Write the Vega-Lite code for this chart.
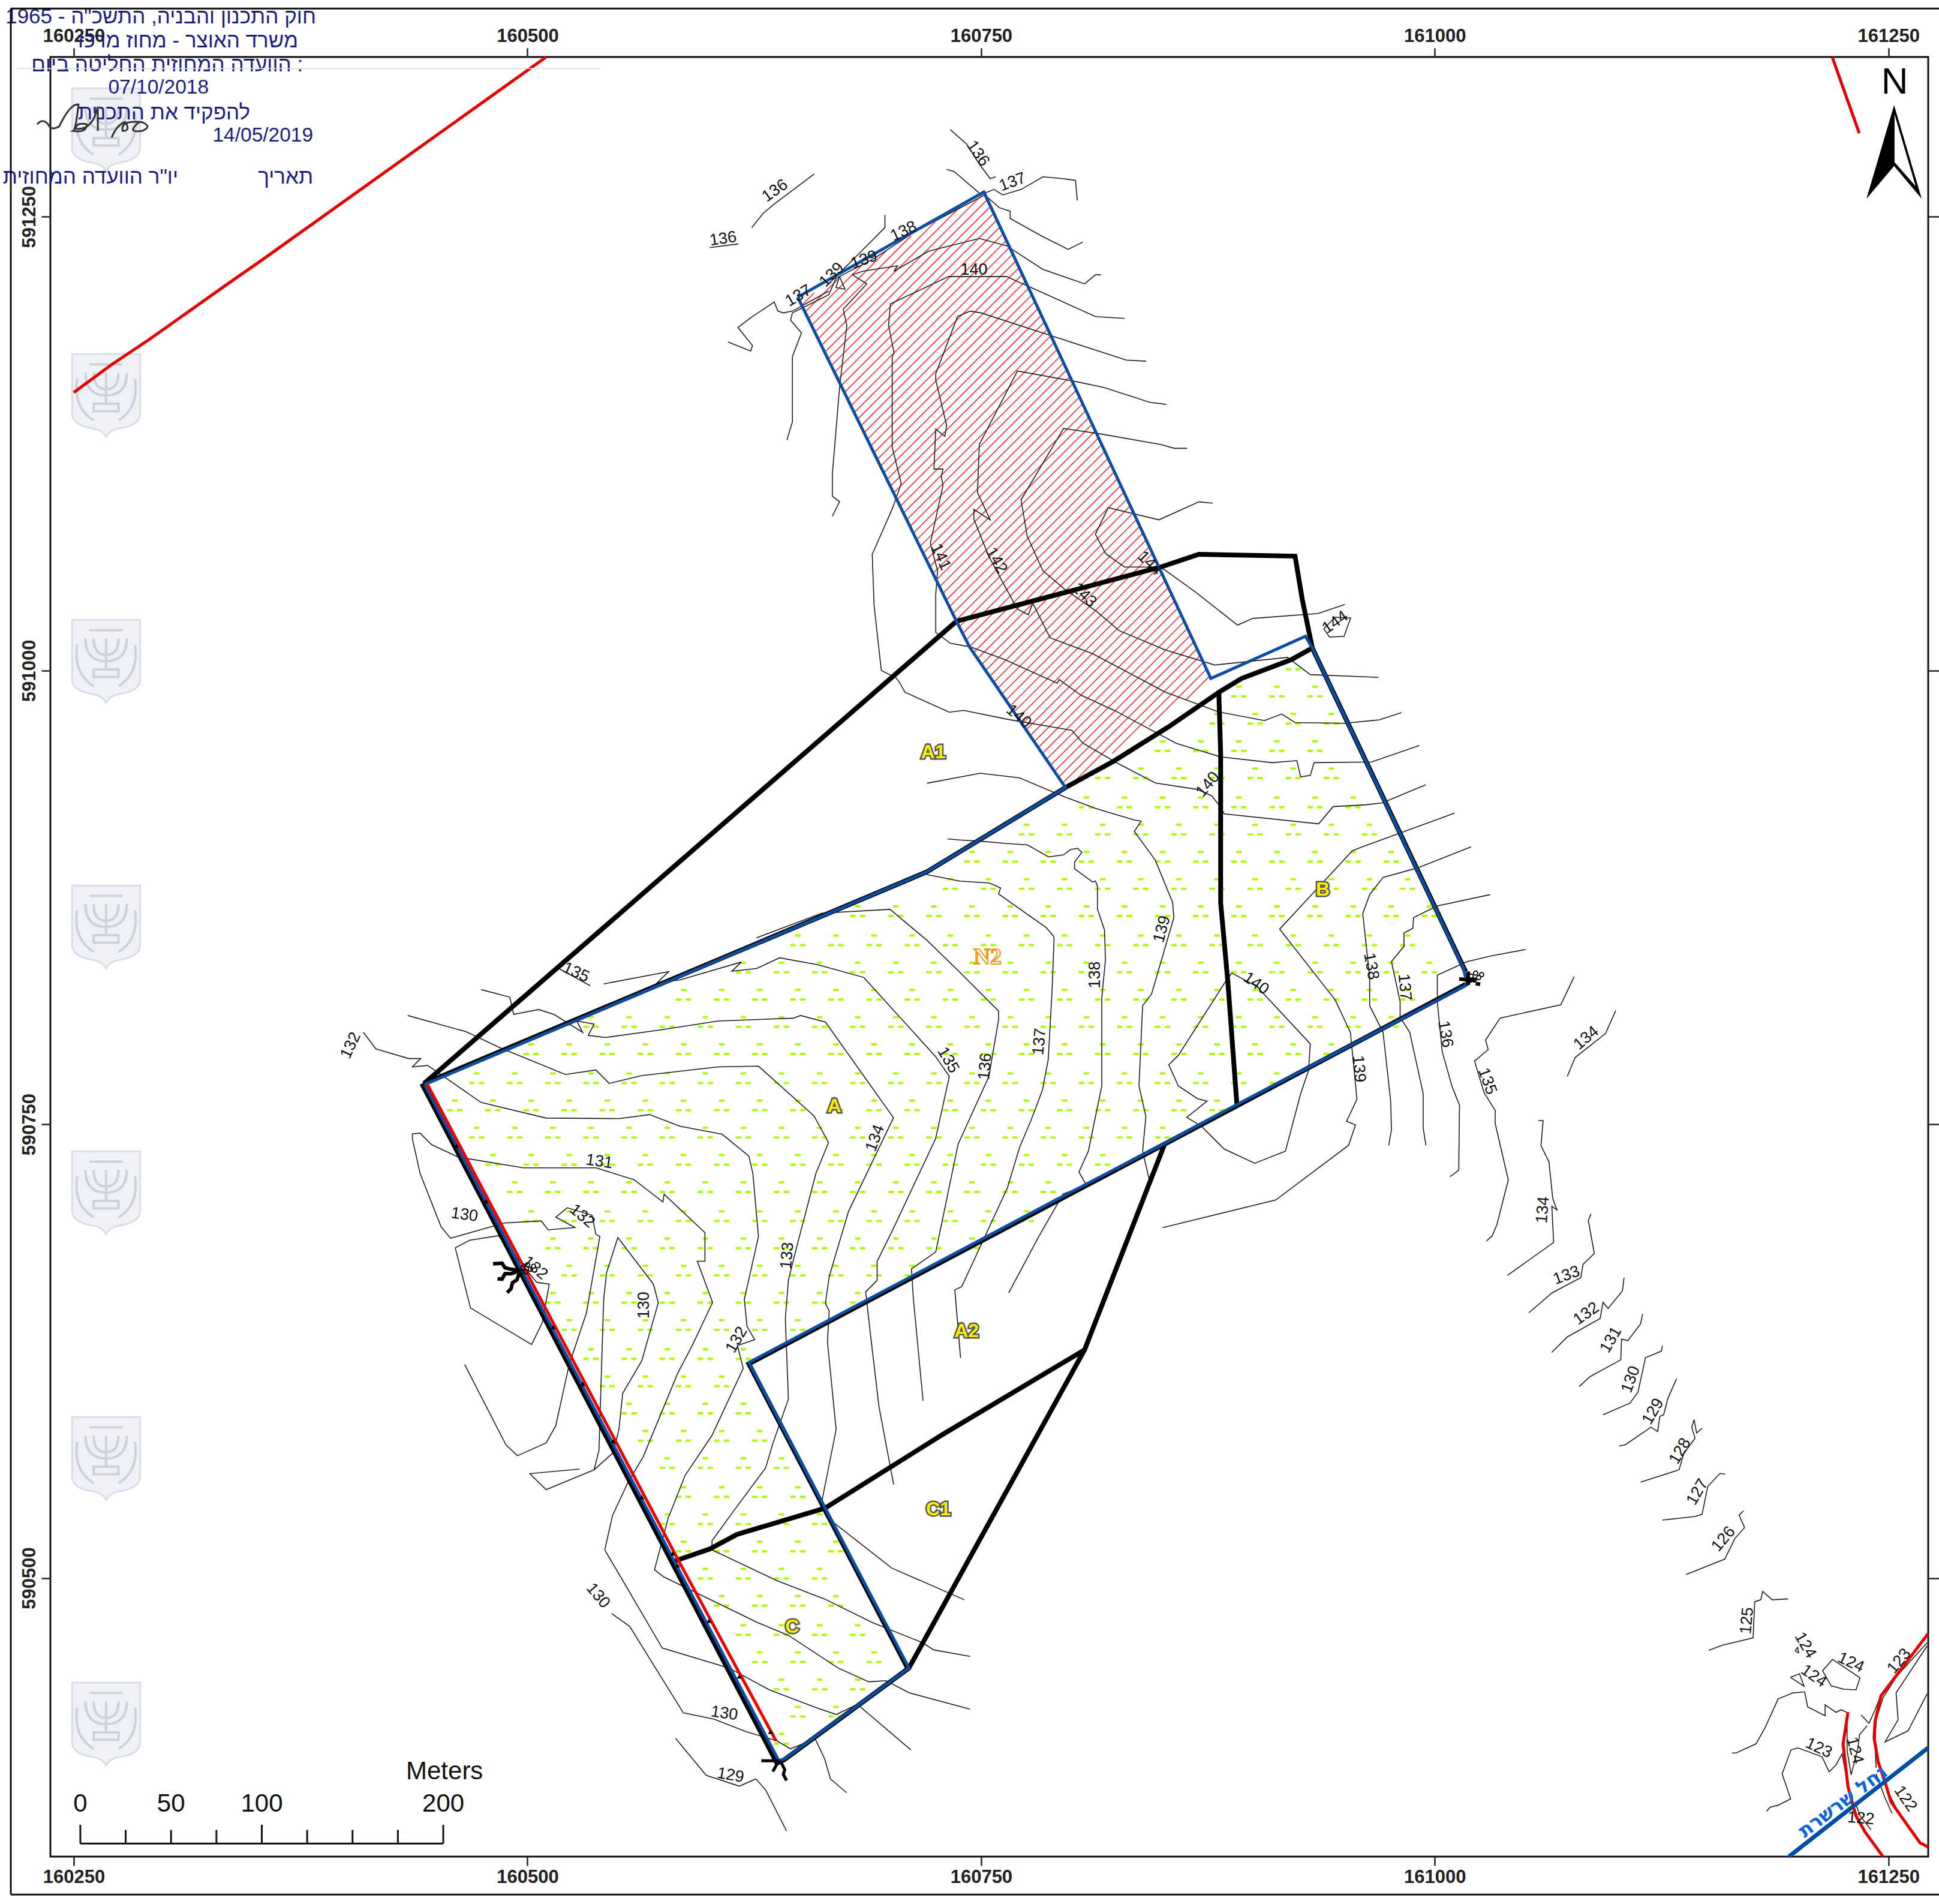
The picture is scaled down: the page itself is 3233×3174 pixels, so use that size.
{"$schema":"https://vega.github.io/schema/vega-lite/v6.json","width":3131,"height":3000,"autosize":"none","padding":{"left":84,"top":95,"right":18,"bottom":79},"background":"white","config":{"view":{"stroke":"#111","strokeWidth":3},"axis":{"grid":false,"domain":false,"title":null,"labelFont":"Liberation Sans","labelFontWeight":"bold","labelFontSize":31,"labelColor":"#222","tickColor":"#222","tickWidth":2.5,"tickSize":15,"labelPadding":4,"labelOverlap":false,"labelFlush":false,"format":"d"}},
"resolve":{"axis":{"x":"independent","y":"independent"}},
"encoding":{"x":{"field":"x","type":"quantitative","scale":{"domain":[160237.1,161271.9],"nice":false,"zero":false},"axis":null},"y":{"field":"y","type":"quantitative","scale":{"domain":[590346.5,591338],"nice":false,"zero":false},"axis":null}},
"layer":[
{"data":{"name":"emblems"},"mark":{"type":"point","filled":true,"fill":"#eff1f6","stroke":"#d9dde6","strokeWidth":3,"opacity":1,"size":19044,"shape":"M-0.82 -1H0.82V0.45Q0.82 0.72 0.3 0.8Q0.08 0.84 0 1Q-0.08 0.84 -0.3 0.8Q-0.82 0.72 -0.82 0.45Z"},
"encoding":{"x":{"field":"x","type":"quantitative","scale":{"domain":[160237.1,161271.9],"nice":false,"zero":false},"axis":{"orient":"bottom","values":[160250,160500,160750,161000,161250]}},"y":{"field":"y","type":"quantitative","scale":{"domain":[590346.5,591338],"nice":false,"zero":false},"axis":{"orient":"left","values":[590500,590750,591000,591250],"labelAngle":-90,"labelAlign":"center","labelBaseline":"bottom"}}}},
{"data":{"name":"emblems"},"mark":{"type":"point","filled":false,"stroke":"#ccd1dc","strokeWidth":4,"opacity":1,"size":19044,"shape":"M0 -0.55V0.2M-0.5 -0.55Q-0.5 0 0 0Q0.5 0 0.5 -0.55M-0.3 -0.55Q-0.3 -0.15 0 -0.15Q0.3 -0.15 0.3 -0.55M-0.3 0.2H0.3V0.38H-0.3ZM-0.7 -0.4Q-0.8 0.3 -0.3 0.6M0.7 -0.4Q0.8 0.3 0.3 0.6M-0.4 -0.75H0.4"},
"encoding":{"x":{"field":"x","type":"quantitative","scale":{"domain":[160237.1,161271.9],"nice":false,"zero":false},"axis":{"orient":"top","values":[160250,160500,160750,161000,161250]}},"y":{"field":"y","type":"quantitative","scale":{"domain":[590346.5,591338],"nice":false,"zero":false},"axis":{"orient":"right","values":[590500,590750,591000,591250],"labels":false,"tickSize":18}}}},
{"data":{"name":"green"},"mark":{"type":"point","filled":true,"fill":"#aaff00","stroke":null,"opacity":1,"size":676,"shape":"M-0.35 -0.15H0.35V0.15H-0.35ZM-0.97 1.08H-0.28V1.38H-0.97ZM0.28 1.08H0.97V1.38H0.28Z"}},
{"data":{"name":"hatch"},"mark":{"type":"rule","color":"#f02a2a","strokeWidth":1.6},"encoding":{"x2":{"field":"x2"},"y2":{"field":"y2"}}},
{"data":{"name":"contours"},"transform":[{"window":[{"op":"row_number","as":"i"}]}],"mark":{"type":"line","color":"#1c1c1c","strokeWidth":1.6,"strokeJoin":"miter"},"encoding":{"detail":{"field":"c","type":"nominal"},"order":{"field":"i","type":"quantitative"}}},
{"data":{"name":"redlines"},"transform":[{"window":[{"op":"row_number","as":"i"}]}],"mark":{"type":"line","color":"#e60000","strokeWidth":5},"encoding":{"detail":{"field":"c","type":"nominal"},"order":{"field":"i","type":"quantitative"}}},
{"data":{"name":"blacklines"},"transform":[{"window":[{"op":"row_number","as":"i"}]}],"mark":{"type":"line","color":"#000","strokeWidth":8},"encoding":{"detail":{"field":"c","type":"nominal"},"order":{"field":"i","type":"quantitative"}}},
{"data":{"name":"bluelines"},"transform":[{"window":[{"op":"row_number","as":"i"}]}],"mark":{"type":"line","color":"#0a4da3","strokeWidth":5},"encoding":{"detail":{"field":"c","type":"nominal"},"order":{"field":"i","type":"quantitative"}}},
{"data":{"name":"parcel"},"mark":{"type":"line","color":"#f00000","strokeWidth":5}},
{"data":{"name":"river"},"mark":{"type":"line","color":"#004da8","strokeWidth":7}},
{"data":{"name":"arrows"},"mark":{"type":"point","shape":"triangle-up","filled":true,"color":"#000","opacity":1,"size":70}},
{"data":{"values":[{"x":160495.9,"y":590669.3}]},"mark":{"type":"point","filled":false,"stroke":"#000","strokeWidth":6,"opacity":1,"size":10000,"shape":"M0 0L-0.3 -0.05L-0.5 -0.1L-0.6 -0.25L-0.9 -0.23M0 0L-0.3 0.1L-0.5 0.1L-0.6 0.28L-0.75 0.27M0 0L-0.1 0.3L-0.25 0.4L-0.3 0.6L-0.43 0.73"}},
{"data":{"values":[{"x":161018.4,"y":590830}]},"mark":{"type":"point","filled":false,"stroke":"#000","strokeWidth":6,"opacity":1,"size":2500,"shape":"M-0.6 0L0.5 0.1M0 -0.5L0 0.4M0.5 0.3L0.8 0.35"}},
{"data":{"values":[{"x":160638.5,"y":590399.3}]},"mark":{"type":"point","filled":false,"stroke":"#000","strokeWidth":5,"opacity":1,"size":10000,"shape":"M0 0L-0.58 0M0 0L-0.2 0.36M0 0L0.1 0.1L0.2 0.3L0.15 0.45L0.26 0.66"}},
{"data":{"values":[{"x":160495.9,"y":590669.3},{"x":161018.4,"y":590830}]},"mark":{"type":"point","filled":false,"stroke":"#000","strokeWidth":1.8,"opacity":1,"size":10000,"shape":"M0.17 -0.1a0.07 0.07 0 1 0 -0.14 0a0.07 0.07 0 1 0 0.14 0ZM0.32 -0.2a0.07 0.07 0 1 0 -0.14 0a0.07 0.07 0 1 0 0.14 0ZM0.42 -0.05a0.07 0.07 0 1 0 -0.14 0a0.07 0.07 0 1 0 0.14 0ZM0.27 0.03a0.07 0.07 0 1 0 -0.14 0a0.07 0.07 0 1 0 0.14 0ZM0.52 -0.15a0.07 0.07 0 1 0 -0.14 0a0.07 0.07 0 1 0 0.14 0ZM0.12 0.05a0.07 0.07 0 1 0 -0.14 0a0.07 0.07 0 1 0 0.14 0Z"}},
{"data":{"name":"contourLabels"},"mark":{"type":"text","font":"Liberation Sans","fontSize":27,"color":"#111","align":"center","baseline":"middle"},"encoding":{"text":{"field":"t"},"angle":{"field":"a","type":"quantitative","scale":null}}},
{"data":{"name":"zones"},"mark":{"type":"text","font":"Liberation Sans","fontWeight":"bold","fontSize":32,"fill":"#ffee00","stroke":"#555","strokeWidth":5,"align":"center","baseline":"middle"},"encoding":{"text":{"field":"t"}}},
{"data":{"name":"zones"},"mark":{"type":"text","font":"Liberation Sans","fontWeight":"bold","fontSize":32,"fill":"#ffee00","align":"center","baseline":"middle"},"encoding":{"text":{"field":"t"}}},
{"data":{"values":[{"x":160753.6,"y":590841.8,"t":"N2"}]},"mark":{"type":"text","font":"Liberation Serif","fontWeight":"bold","fontSize":38,"fill":"#ffffff","stroke":"#ee9a10","strokeWidth":2,"align":"center","baseline":"middle"},"encoding":{"text":{"field":"t"}}},
{"data":{"values":[{"x":161225,"y":590376.8,"t":"נחל שרשרת"}]},"mark":{"type":"text","font":"DejaVu Sans","fontWeight":"bold","fontSize":32,"fill":"#0a64dc","angle":-37,"align":"center","baseline":"middle"},"encoding":{"text":{"field":"t"}}},
{"data":{"name":"notes"},"mark":{"type":"text","font":"Liberation Sans","fontSize":35,"color":"#1d1d80","align":"right","baseline":"middle"},"encoding":{"text":{"field":"t"}}},
{"data":{"name":"dates"},"mark":{"type":"text","font":"Liberation Sans","fontSize":33.5,"color":"#1d1d80","align":"right","baseline":"middle"},"encoding":{"text":{"field":"t"}}},
{"data":{"values":[{"x":160260.2,"y":591300.9}]},"mark":{"type":"point","filled":false,"stroke":"#333","strokeWidth":3,"opacity":1,"size":33856,"shape":"M-1 0Q-0.9 -0.12 -0.8 0Q-0.75 0.12 -0.6 0.04Q-0.4 -0.38 -0.25 -0.36Q-0.3 0.1 -0.35 0.12Q-0.1 0.16 -0.1 0Q-0.3 -0.04 -0.3 0.08Q0 0.12 0.1 -0.32Q0.1 0.12 0.1 0.12M0.35 0.24Q0.45 0 0.6 -0.04Q0.7 0.12 0.55 0.12Q0.5 -0.08 0.9 -0.04Q1.1 0.04 0.9 0.12Q0.6 0.16 0.85 -0.04"}},
{"data":{"values":[{"x":161253.1,"y":591285.7}]},"mark":{"type":"point","filled":true,"fill":"#000","stroke":null,"opacity":1,"size":24336,"shape":"M0 -1L0.59 1L0 0.3L-0.59 1Z"}},
{"data":{"values":[{"x":161253.1,"y":591285.7}]},"mark":{"type":"point","filled":true,"fill":"#fff","stroke":null,"opacity":1,"size":24336,"shape":"M0.01 -0.8L0.46 0.73L0.01 0.22Z"}},
{"data":{"values":[{"x":161253.4,"y":591324,"t":"N"}]},"mark":{"type":"text","font":"Liberation Sans","fontSize":62,"color":"#000","align":"center","baseline":"middle"},"encoding":{"text":{"field":"t"}}},
{"data":{"values":[{"x":160253.6,"x2":160453.6,"y":590353.7,"y2":590353.7},{"x":160253.6,"x2":160253.6,"y":590353.7,"y2":590364},{"x":160278.6,"x2":160278.6,"y":590353.7,"y2":590361.2},{"x":160303.6,"x2":160303.6,"y":590353.7,"y2":590361.2},{"x":160328.6,"x2":160328.6,"y":590353.7,"y2":590361.2},{"x":160353.6,"x2":160353.6,"y":590353.7,"y2":590364},{"x":160378.6,"x2":160378.6,"y":590353.7,"y2":590361.2},{"x":160403.6,"x2":160403.6,"y":590353.7,"y2":590361.2},{"x":160428.6,"x2":160428.6,"y":590353.7,"y2":590361.2},{"x":160453.6,"x2":160453.6,"y":590353.7,"y2":590364}]},"mark":{"type":"rule","color":"#111","strokeWidth":3},"encoding":{"x2":{"field":"x2"},"y2":{"field":"y2"}}},
{"data":{"values":[{"x":160253.6,"y":590375.5,"t":"0"},{"x":160303.6,"y":590375.5,"t":"50"},{"x":160353.6,"y":590375.5,"t":"100"},{"x":160453.6,"y":590375.5,"t":"200"},{"x":160454.3,"y":590393.3,"t":"Meters"}]},"mark":{"type":"text","font":"Liberation Sans","fontSize":42,"color":"#111","align":"center","baseline":"middle"},"encoding":{"text":{"field":"t"}}},
{"data":{"values":[{"x":160215.3,"x2":161278,"y":591364.7,"y2":591364.7},{"x":160215.3,"x2":161278,"y":590325.6,"y2":590325.6},{"x":160215.3,"x2":160215.3,"y":591364.7,"y2":590325.6}]},"mark":{"type":"rule","color":"#111","strokeWidth":3},"encoding":{"x2":{"field":"x2"},"y2":{"field":"y2"}}},
{"data":{"values":[{"x":160218.3,"x2":160540,"y":591331.6,"y2":591331.6}]},"mark":{"type":"rule","color":"#ddd","strokeWidth":1.5},"encoding":{"x2":{"field":"x2"},"y2":{"field":"y2"}}}
],
"datasets":{
"emblems":[{"x":160267.8,"y":591297.9},{"x":160267.8,"y":591151.5},{"x":160267.8,"y":591005.1},{"x":160267.8,"y":590858.7},{"x":160267.8,"y":590712.3},{"x":160267.8,"y":590565.9},{"x":160267.8,"y":590419.5}],
"notes":[{"x":160383.5,"y":591360.1,"t":"חוק התכנון והבניה, התשכ\"ה - 1965"},{"x":160373.6,"y":591346.8,"t":"משרד האוצר - מחוז מרכז"},{"x":160376.3,"y":591333.6,"t":"הוועדה המחוזית החליטה ביום :"},{"x":160347.2,"y":591307.2,"t":"להפקיד את התכנית"},{"x":160307.5,"y":591271.8,"t":"יו\"ר הוועדה המחוזית"},{"x":160381.9,"y":591271.8,"t":"תאריך"}],
"dates":[{"x":160324.4,"y":591321,"t":"07/10/2018"},{"x":160381.9,"y":591294.6,"t":"14/05/2019"}],
"zones":[{"x":160723.6,"y":590954.9,"t":"A1"},{"x":160742,"y":590636,"t":"A2"},{"x":160669.1,"y":590760,"t":"A"},{"x":160938.3,"y":590879.3,"t":"B"},{"x":160645.9,"y":590473.1,"t":"C"},{"x":160726.4,"y":590537.9,"t":"C1"}],
"contourLabels":[{"x":160748.2,"y":591284.8,"t":"136","a":55},{"x":160767.3,"y":591269.1,"t":"137","a":-20},{"x":160636.4,"y":591264.3,"t":"136","a":-35},{"x":160607.8,"y":591237.8,"t":"136","a":-8},{"x":160707.3,"y":591241.9,"t":"138","a":-25},{"x":160685.5,"y":591226.2,"t":"139","a":-20},{"x":160667.7,"y":591218,"t":"139","a":-45},{"x":160649.3,"y":591206.4,"t":"137","a":-30},{"x":160746.1,"y":591220.7,"t":"140","a":0},{"x":160727.7,"y":591062.6,"t":"141","a":65},{"x":160758.4,"y":591060.6,"t":"142","a":60},{"x":160806.8,"y":591041.5,"t":"143","a":45},{"x":160842.9,"y":591059,"t":"144","a":45},{"x":160945.1,"y":591026.5,"t":"144","a":-35},{"x":160770.7,"y":590974.7,"t":"140","a":40},{"x":160875,"y":590937.2,"t":"140","a":-50},{"x":160526.7,"y":590833.6,"t":"135","a":25},{"x":160402.6,"y":590793.4,"t":"132","a":-65},{"x":160849.7,"y":590857.5,"t":"139","a":-75},{"x":160812.9,"y":590832.3,"t":"138","a":-90},{"x":160782.2,"y":590795.5,"t":"137","a":-85},{"x":160752.3,"y":590781.8,"t":"136","a":-85},{"x":160731.8,"y":590785.3,"t":"135","a":60},{"x":160691.6,"y":590742.3,"t":"134","a":-70},{"x":160643.2,"y":590677.6,"t":"133","a":-85},{"x":160615.3,"y":590631.2,"t":"132","a":-60},{"x":160539.6,"y":590729.4,"t":"131","a":8},{"x":160530.1,"y":590699.4,"t":"132","a":40},{"x":160465.3,"y":590700.1,"t":"130","a":8},{"x":160504.2,"y":590670.8,"t":"132","a":40},{"x":160564.2,"y":590650.3,"t":"130","a":-90},{"x":160538.9,"y":590490.2,"t":"130","a":50},{"x":160608.5,"y":590425.4,"t":"130","a":8},{"x":160611.9,"y":590391.3,"t":"129","a":10},{"x":160901.5,"y":590827.5,"t":"140","a":35},{"x":160964.9,"y":590837,"t":"138","a":80},{"x":160983.3,"y":590825.5,"t":"137","a":85},{"x":161005.8,"y":590799.6,"t":"136","a":80},{"x":161028.9,"y":590773.7,"t":"135","a":70},{"x":160958.1,"y":590780.5,"t":"139","a":85},{"x":161083.5,"y":590797.5,"t":"134","a":-40},{"x":161059.6,"y":590702.8,"t":"134","a":-85},{"x":161072.6,"y":590666.7,"t":"133","a":-20},{"x":161083.5,"y":590645.6,"t":"132","a":-35},{"x":161097.1,"y":590631.2,"t":"131","a":-60},{"x":161108,"y":590609.4,"t":"130","a":-70},{"x":161120.3,"y":590591.7,"t":"129","a":-60},{"x":161135.2,"y":590569.9,"t":"128","a":-60},{"x":161144.8,"y":590547.4,"t":"127","a":-60},{"x":161159.1,"y":590521.5,"t":"126","a":-50},{"x":161172.1,"y":590476.5,"t":"125","a":-85},{"x":161204.1,"y":590462.9,"t":"124","a":60},{"x":161229.3,"y":590453.4,"t":"124","a":25},{"x":161208.8,"y":590445.9,"t":"124","a":35},{"x":161255.9,"y":590454.2,"t":"123","a":-50},{"x":161211.6,"y":590406.3,"t":"123","a":25},{"x":161231.4,"y":590405,"t":"124","a":75},{"x":161259.3,"y":590378.4,"t":"122","a":55},{"x":161234.8,"y":590367.5,"t":"122","a":5}],
"arrows":[{"x":160460.8,"y":590738.2},{"x":160477.2,"y":590707.6},{"x":160514.1,"y":590638.3},{"x":160530.4,"y":590607},{"x":160547.2,"y":590575.4},{"x":160563,"y":590544.5},{"x":160580,"y":590513.5},{"x":160582.7,"y":590507},{"x":160600,"y":590476.4},{"x":160616.8,"y":590445.8},{"x":160633.9,"y":590415.3}],
"parcel":[{"x":160444.6,"y":590772.5},{"x":160583.3,"y":590509.5},{"x":160637,"y":590410.3}],
"river":[{"x":161195.2,"y":590346.6},{"x":161271.8,"y":590406.4}],
"redlines":[{"c":1,"x":160250,"y":591153.2},{"c":1,"x":160270.4,"y":591168.2},{"c":1,"x":160290.9,"y":591181.9},{"c":1,"x":160333.1,"y":591211.8},{"c":1,"x":160355.6,"y":591227.5},{"c":1,"x":160510.3,"y":591338},{"c":2,"x":161219,"y":591338},{"c":2,"x":161233.9,"y":591296},{"c":3,"x":161227.7,"y":590426.1},{"c":3,"x":161225,"y":590408.6},{"c":3,"x":161227.7,"y":590385},{"c":3,"x":161229.9,"y":590376.7},{"c":3,"x":161232.1,"y":590369},{"c":3,"x":161237.1,"y":590360.1},{"c":3,"x":161247,"y":590346.5},{"c":4,"x":161271.8,"y":590469.3},{"c":4,"x":161245.9,"y":590435.1},{"c":4,"x":161242.6,"y":590420.8},{"c":4,"x":161242.1,"y":590412},{"c":4,"x":161244.3,"y":590398.7},{"c":4,"x":161248.1,"y":590387.7},{"c":4,"x":161251.4,"y":590376.7},{"c":4,"x":161259.1,"y":590365.7},{"c":4,"x":161267.4,"y":590354.1},{"c":4,"x":161271.8,"y":590351.9}],
"blacklines":[{"c":1,"x":160443,"y":590772.4},{"c":1,"x":160736.4,"y":591027.1},{"c":1,"x":160849,"y":591057},{"c":1,"x":160870,"y":591064},{"c":1,"x":160923,"y":591063},{"c":1,"x":160927,"y":591039},{"c":1,"x":160932.5,"y":591012.4},{"c":1,"x":161017,"y":590834},{"c":2,"x":160932.5,"y":591012.4},{"c":2,"x":160921,"y":591006},{"c":2,"x":160893.5,"y":590995.6},{"c":2,"x":160881,"y":590988},{"c":2,"x":160853.4,"y":590969},{"c":2,"x":160823,"y":590950},{"c":2,"x":160796.5,"y":590935.5},{"c":2,"x":160720,"y":590889},{"c":2,"x":160443,"y":590772.4},{"c":3,"x":160881,"y":590988},{"c":3,"x":160882,"y":590954},{"c":3,"x":160882,"y":590872},{"c":3,"x":160886,"y":590828},{"c":3,"x":160891,"y":590760},{"c":4,"x":160851.3,"y":590739.5},{"c":4,"x":160807,"y":590625.7},{"c":4,"x":160710.2,"y":590450.4},{"c":5,"x":160807,"y":590625.7},{"c":5,"x":160728,"y":590578.6},{"c":5,"x":160664,"y":590538.5},{"c":5,"x":160615.4,"y":590524},{"c":5,"x":160600.6,"y":590516},{"c":5,"x":160581.6,"y":590509.5},{"c":6,"x":161017,"y":590827},{"c":6,"x":160851,"y":590739},{"c":6,"x":160622,"y":590618},{"c":6,"x":160709.7,"y":590450},{"c":6,"x":160641.7,"y":590400},{"c":6,"x":160637.5,"y":590398},{"c":6,"x":160441.8,"y":590772.4}],
"bluelines":[{"c":1,"x":160648.9,"y":591205.7},{"c":1,"x":160751.5,"y":591263.6},{"c":1,"x":160876.6,"y":590995.6},{"c":1,"x":160928.7,"y":591018.8},{"c":1,"x":160932.5,"y":591012.4},{"c":1,"x":161015.7,"y":590836.4},{"c":1,"x":161017.8,"y":590827},{"c":1,"x":160999.9,"y":590817.5},{"c":1,"x":160890.3,"y":590760.5},{"c":1,"x":160851.3,"y":590739.5},{"c":1,"x":160791.2,"y":590708.3},{"c":1,"x":160622,"y":590618.7},{"c":1,"x":160710.2,"y":590450.4},{"c":1,"x":160641.7,"y":590400.3},{"c":1,"x":160638.5,"y":590399.3},{"c":1,"x":160443.3,"y":590771.9},{"c":2,"x":160648.9,"y":591205.7},{"c":2,"x":160736.4,"y":591027.1},{"c":2,"x":160743.7,"y":591012.8},{"c":2,"x":160796.5,"y":590935.5},{"c":2,"x":160720,"y":590889},{"c":2,"x":160443.3,"y":590771.9}],
"hatch":[{"x":160651.6,"y":591201.6,"x2":160658.1,"y2":591208.1},{"x":160653.4,"y":591197.9,"x2":160671.4,"y2":591215.9},{"x":160655.2,"y":591194.2,"x2":160684.8,"y2":591223.8},{"x":160657,"y":591190.5,"x2":160698.1,"y2":591231.6},{"x":160658.7,"y":591186.7,"x2":160711.4,"y2":591239.4},{"x":160660.5,"y":591183,"x2":160724.7,"y2":591247.2},{"x":160662.3,"y":591179.3,"x2":160738.1,"y2":591255.1},{"x":160664.1,"y":591175.6,"x2":160751.4,"y2":591262.9},{"x":160665.9,"y":591171.9,"x2":160753.2,"y2":591259.2},{"x":160667.7,"y":591168.2,"x2":160754.9,"y2":591255.4},{"x":160669.5,"y":591164.5,"x2":160756.7,"y2":591251.7},{"x":160671.2,"y":591160.7,"x2":160758.4,"y2":591247.9},{"x":160673,"y":591157,"x2":160760.2,"y2":591244.2},{"x":160674.8,"y":591153.3,"x2":160762,"y2":591240.5},{"x":160676.6,"y":591149.6,"x2":160763.7,"y2":591236.7},{"x":160678.4,"y":591145.9,"x2":160765.5,"y2":591233},{"x":160680.2,"y":591142.2,"x2":160767.2,"y2":591229.2},{"x":160682,"y":591138.5,"x2":160769,"y2":591225.5},{"x":160683.8,"y":591134.8,"x2":160770.7,"y2":591221.7},{"x":160685.5,"y":591131,"x2":160772.5,"y2":591218},{"x":160687.3,"y":591127.3,"x2":160774.2,"y2":591214.2},{"x":160689.1,"y":591123.6,"x2":160776,"y2":591210.5},{"x":160690.9,"y":591119.9,"x2":160777.8,"y2":591206.8},{"x":160692.7,"y":591116.2,"x2":160779.5,"y2":591203},{"x":160694.5,"y":591112.5,"x2":160781.3,"y2":591199.3},{"x":160696.3,"y":591108.8,"x2":160783,"y2":591195.5},{"x":160698.1,"y":591105.1,"x2":160784.8,"y2":591191.8},{"x":160699.8,"y":591101.3,"x2":160786.5,"y2":591188},{"x":160701.6,"y":591097.6,"x2":160788.3,"y2":591184.3},{"x":160703.4,"y":591093.9,"x2":160790.1,"y2":591180.6},{"x":160705.2,"y":591090.2,"x2":160791.8,"y2":591176.8},{"x":160707,"y":591086.5,"x2":160793.6,"y2":591173.1},{"x":160708.8,"y":591082.8,"x2":160795.3,"y2":591169.3},{"x":160710.6,"y":591079.1,"x2":160797.1,"y2":591165.6},{"x":160712.3,"y":591075.3,"x2":160798.8,"y2":591161.8},{"x":160714.1,"y":591071.6,"x2":160800.6,"y2":591158.1},{"x":160715.9,"y":591067.9,"x2":160802.3,"y2":591154.3},{"x":160717.7,"y":591064.2,"x2":160804.1,"y2":591150.6},{"x":160719.5,"y":591060.5,"x2":160805.9,"y2":591146.9},{"x":160721.3,"y":591056.8,"x2":160807.6,"y2":591143.1},{"x":160723.1,"y":591053.1,"x2":160809.4,"y2":591139.4},{"x":160724.8,"y":591049.3,"x2":160811.1,"y2":591135.6},{"x":160726.6,"y":591045.6,"x2":160812.9,"y2":591131.9},{"x":160728.4,"y":591041.9,"x2":160814.6,"y2":591128.1},{"x":160730.2,"y":591038.2,"x2":160816.4,"y2":591124.4},{"x":160732,"y":591034.5,"x2":160818.2,"y2":591120.7},{"x":160733.7,"y":591030.7,"x2":160819.9,"y2":591116.9},{"x":160735.5,"y":591027,"x2":160821.7,"y2":591113.2},{"x":160737.6,"y":591023.6,"x2":160823.4,"y2":591109.4},{"x":160739.7,"y":591020.2,"x2":160825.2,"y2":591105.7},{"x":160741.9,"y":591016.9,"x2":160827,"y2":591102},{"x":160744,"y":591013.5,"x2":160828.7,"y2":591098.2},{"x":160746.1,"y":591010.1,"x2":160830.5,"y2":591094.5},{"x":160748.3,"y":591006.8,"x2":160832.2,"y2":591090.7},{"x":160750.5,"y":591003.5,"x2":160834,"y2":591087},{"x":160752.7,"y":591000.2,"x2":160835.7,"y2":591083.2},{"x":160754.9,"y":590996.9,"x2":160837.5,"y2":591079.5},{"x":160757.1,"y":590993.6,"x2":160839.2,"y2":591075.7},{"x":160759.3,"y":590990.3,"x2":160841,"y2":591072},{"x":160761.5,"y":590987,"x2":160842.8,"y2":591068.3},{"x":160763.7,"y":590983.7,"x2":160844.5,"y2":591064.5},{"x":160765.9,"y":590980.4,"x2":160846.3,"y2":591060.8},{"x":160768.1,"y":590977.1,"x2":160848,"y2":591057},{"x":160770.3,"y":590973.8,"x2":160849.8,"y2":591053.3},{"x":160772.5,"y":590970.5,"x2":160851.5,"y2":591049.5},{"x":160774.7,"y":590967.2,"x2":160853.3,"y2":591045.8},{"x":160776.9,"y":590963.9,"x2":160855.1,"y2":591042.1},{"x":160779.1,"y":590960.6,"x2":160856.8,"y2":591038.3},{"x":160781.3,"y":590957.3,"x2":160858.6,"y2":591034.6},{"x":160783.5,"y":590954,"x2":160860.3,"y2":591030.8},{"x":160785.8,"y":590950.8,"x2":160862.1,"y2":591027.1},{"x":160788,"y":590947.5,"x2":160863.8,"y2":591023.3},{"x":160790.2,"y":590944.2,"x2":160865.6,"y2":591019.6},{"x":160792.4,"y":590940.9,"x2":160867.3,"y2":591015.8},{"x":160794.6,"y":590937.6,"x2":160869.1,"y2":591012.1},{"x":160801.9,"y":590939.4,"x2":160870.9,"y2":591008.4},{"x":160822.2,"y":590954.2,"x2":160872.7,"y2":591004.7},{"x":160842.6,"y":590969.1,"x2":160874.4,"y2":591000.9},{"x":160862.9,"y":590983.9,"x2":160876.2,"y2":590997.2}],
"contours":[
{"c":1,"x":160733,"y":591298},{"c":1,"x":160742,"y":591290},{"c":1,"x":160749,"y":591279},{"c":1,"x":160755,"y":591271},{"c":1,"x":160758,"y":591272},
{"c":2,"x":160731,"y":591276},{"c":2,"x":160735,"y":591275},{"c":2,"x":160749,"y":591263},
{"c":3,"x":160752,"y":591263},{"c":3,"x":160757,"y":591265},{"c":3,"x":160762,"y":591262},{"c":3,"x":160772,"y":591265},{"c":3,"x":160784,"y":591272},{"c":3,"x":160795,"y":591271},{"c":3,"x":160802,"y":591270},{"c":3,"x":160803,"y":591259},
{"c":4,"x":160610.5,"y":591181},{"c":4,"x":160623,"y":591176},{"c":4,"x":160624,"y":591179},{"c":4,"x":160616,"y":591189},{"c":4,"x":160624,"y":591195},{"c":4,"x":160636,"y":591203},{"c":4,"x":160638,"y":591198},{"c":4,"x":160641,"y":591197},{"c":4,"x":160646,"y":591198},{"c":4,"x":160666,"y":591209},
{"c":5,"x":160697,"y":591251},{"c":5,"x":160697,"y":591244},{"c":5,"x":160685,"y":591232},{"c":5,"x":160672,"y":591219},{"c":5,"x":160666,"y":591213},
{"c":6,"x":160643,"y":591127},{"c":6,"x":160646,"y":591137},{"c":6,"x":160646,"y":591173},{"c":6,"x":160651,"y":591186},{"c":6,"x":160645,"y":591193},{"c":6,"x":160646,"y":591197},{"c":6,"x":160666,"y":591207},{"c":6,"x":160670,"y":591216},{"c":6,"x":160691,"y":591227},{"c":6,"x":160714,"y":591242},{"c":6,"x":160752,"y":591262},{"c":6,"x":160760,"y":591255},{"c":6,"x":160766,"y":591253},{"c":6,"x":160766,"y":591249},{"c":6,"x":160784,"y":591239},{"c":6,"x":160798,"y":591232},{"c":6,"x":160806,"y":591236},
{"c":7,"x":160668,"y":591085},{"c":7,"x":160672,"y":591093},{"c":7,"x":160668,"y":591096},{"c":7,"x":160668,"y":591108},{"c":7,"x":160672,"y":591156},{"c":7,"x":160676,"y":591190},{"c":7,"x":160674,"y":591199},{"c":7,"x":160687,"y":591213},{"c":7,"x":160679,"y":591218},{"c":7,"x":160685,"y":591220},{"c":7,"x":160704,"y":591223},{"c":7,"x":160702,"y":591220},{"c":7,"x":160721,"y":591231},{"c":7,"x":160749,"y":591238},{"c":7,"x":160764,"y":591234},{"c":7,"x":160784,"y":591221},{"c":7,"x":160807,"y":591213},{"c":7,"x":160813,"y":591218},{"c":7,"x":160816,"y":591218},
{"c":8,"x":160672,"y":591217},{"c":8,"x":160670,"y":591211},{"c":8,"x":160675,"y":591210},{"c":8,"x":160672,"y":591217},
{"c":9,"x":160995,"y":590937},{"c":9,"x":160971,"y":590927},{"c":9,"x":160962,"y":590926},{"c":9,"x":160944,"y":590925},{"c":9,"x":160936,"y":590915.5},{"c":9,"x":160884,"y":590921},{"c":9,"x":160881,"y":590926},{"c":9,"x":160877,"y":590931},{"c":9,"x":160869,"y":590934.5},{"c":9,"x":160846,"y":590938},{"c":9,"x":160825,"y":590949},{"c":9,"x":160806,"y":590960},{"c":9,"x":160800,"y":590967},{"c":9,"x":160765,"y":590973},{"c":9,"x":160740.5,"y":590978},{"c":9,"x":160732.5,"y":590977},{"c":9,"x":160708,"y":590988},{"c":9,"x":160705,"y":590993.5},{"c":9,"x":160703,"y":590996},{"c":9,"x":160695,"y":591000},{"c":9,"x":160691,"y":591036},{"c":9,"x":160690,"y":591064},{"c":9,"x":160701,"y":591089},{"c":9,"x":160706,"y":591103},{"c":9,"x":160701,"y":591123},{"c":9,"x":160701,"y":591157},{"c":9,"x":160701,"y":591165},{"c":9,"x":160701,"y":591173},{"c":9,"x":160702,"y":591175},{"c":9,"x":160699,"y":591190},{"c":9,"x":160700,"y":591202},{"c":9,"x":160732,"y":591217},{"c":9,"x":160764,"y":591217},{"c":9,"x":160777.5,"y":591211},{"c":9,"x":160813,"y":591195},{"c":9,"x":160829,"y":591194},
{"c":10,"x":160841,"y":591170.4},{"c":10,"x":160830,"y":591171},{"c":10,"x":160790,"y":591184},{"c":10,"x":160750,"y":591197},{"c":10,"x":160744,"y":591198},{"c":10,"x":160737,"y":591195},{"c":10,"x":160725,"y":591163.5},{"c":10,"x":160725,"y":591160},{"c":10,"x":160731,"y":591135},{"c":10,"x":160730,"y":591129},{"c":10,"x":160725,"y":591133},{"c":10,"x":160724,"y":591111},{"c":10,"x":160729,"y":591111},{"c":10,"x":160728,"y":591107},{"c":10,"x":160729,"y":591102},{"c":10,"x":160722,"y":591070},{"c":10,"x":160726,"y":591055},{"c":10,"x":160725,"y":591042},{"c":10,"x":160725,"y":591021},{"c":10,"x":160733,"y":591015},{"c":10,"x":160744,"y":591013},{"c":10,"x":160763,"y":591006},{"c":10,"x":160792,"y":590993},{"c":10,"x":160793,"y":590995},{"c":10,"x":160805,"y":590986.4},{"c":10,"x":160824,"y":590977.7},{"c":10,"x":160857.6,"y":590959.8},{"c":10,"x":160881.9,"y":590952.4},{"c":10,"x":160910.3,"y":590949.2},{"c":10,"x":160924,"y":590950.3},{"c":10,"x":160926.1,"y":590941.4},{"c":10,"x":160931.4,"y":590942.2},{"c":10,"x":160933.5,"y":590949.2},{"c":10,"x":160965.1,"y":590949.6},{"c":10,"x":160991.5,"y":590958.7},
{"c":11,"x":160852,"y":591146.6},{"c":11,"x":160843,"y":591147.7},{"c":11,"x":160817.5,"y":591156},{"c":11,"x":160803,"y":591159},{"c":11,"x":160770,"y":591165},{"c":11,"x":160749,"y":591124.5},{"c":11,"x":160748,"y":591098},{"c":11,"x":160755,"y":591083},{"c":11,"x":160746,"y":591088.7},{"c":11,"x":160746,"y":591083.4},{"c":11,"x":160754,"y":591063.4},{"c":11,"x":160759.5,"y":591053},{"c":11,"x":160770,"y":591033.8},{"c":11,"x":160776,"y":591030.7},{"c":11,"x":160778.5,"y":591037},{"c":11,"x":160788,"y":591018},{"c":11,"x":160811.3,"y":591009.3},{"c":11,"x":160851.3,"y":590988.2},{"c":11,"x":160880.8,"y":590977.2},{"c":11,"x":160906.1,"y":590972.4},{"c":11,"x":160915.6,"y":590976},{"c":11,"x":160923,"y":590971.3},{"c":11,"x":160950.4,"y":590970.9},{"c":11,"x":160969.4,"y":590972.8},{"c":11,"x":160981.6,"y":590976.8},
{"c":12,"x":160863.5,"y":591122.4},{"c":12,"x":160856.5,"y":591122.4},{"c":12,"x":160849,"y":591124.5},{"c":12,"x":160815.4,"y":591130.4},{"c":12,"x":160795.4,"y":591133.3},{"c":12,"x":160772,"y":591094},{"c":12,"x":160775.4,"y":591074},{"c":12,"x":160784,"y":591055},{"c":12,"x":160796.5,"y":591044.4},{"c":12,"x":160813.3,"y":591032.8},{"c":12,"x":160826,"y":591022},{"c":12,"x":160851.3,"y":591011.4},{"c":12,"x":160878.7,"y":591003},{"c":12,"x":160918.8,"y":591007.2},{"c":12,"x":160931.4,"y":590997.7},{"c":12,"x":160969,"y":590996.2},
{"c":13,"x":160877.6,"y":591092.2},{"c":13,"x":160870,"y":591092.9},{"c":13,"x":160848,"y":591083},{"c":13,"x":160820,"y":591089.7},{"c":13,"x":160813,"y":591075},{"c":13,"x":160818.6,"y":591064.4},{"c":13,"x":160829,"y":591057},{"c":13,"x":160849,"y":591057},{"c":13,"x":160868,"y":591043.3},{"c":13,"x":160891.3,"y":591025},{"c":13,"x":160899.8,"y":591028.7},{"c":13,"x":160935.6,"y":591031.4},{"c":13,"x":160950.4,"y":591036.3},
{"c":14,"x":160938.8,"y":591023},{"c":14,"x":160945.1,"y":591029.3},{"c":14,"x":160953.6,"y":591028.9},{"c":14,"x":160950,"y":591018.8},{"c":14,"x":160942,"y":591018.4},{"c":14,"x":160938.8,"y":591023},
{"c":15,"x":160720.2,"y":590937.9},{"c":15,"x":160749.5,"y":590943.4},{"c":15,"x":160771.2,"y":590940.8},{"c":15,"x":160796.5,"y":590930.2},{"c":15,"x":160813.4,"y":590923.9},{"c":15,"x":160834.4,"y":590917.6},{"c":15,"x":160838.2,"y":590917},{"c":15,"x":160834.4,"y":590911.3},{"c":15,"x":160846,"y":590895.5},{"c":15,"x":160855.5,"y":590872.3},{"c":15,"x":160856.2,"y":590863.8},{"c":15,"x":160843.9,"y":590821.7},{"c":15,"x":160839,"y":590815.3},{"c":15,"x":160837,"y":590771.1},{"c":15,"x":160840.8,"y":590754.2},{"c":15,"x":160839,"y":590735.2},{"c":15,"x":160842.9,"y":590718.4},
{"c":16,"x":161010.9,"y":590921.4},{"c":16,"x":160959.9,"y":590902.8},{"c":16,"x":160954.6,"y":590900.7},{"c":16,"x":160914.5,"y":590857.5},{"c":16,"x":160945.1,"y":590818.5},{"c":16,"x":160953.5,"y":590800.6},{"c":16,"x":160957.1,"y":590763.7},{"c":16,"x":160951.4,"y":590751.7},{"c":16,"x":160956.3,"y":590749.6},{"c":16,"x":160952.5,"y":590738.4},{"c":16,"x":160912.4,"y":590708.3},{"c":16,"x":160850,"y":590693},
{"c":17,"x":160888.2,"y":590833.3},{"c":17,"x":160901.9,"y":590825.9},{"c":17,"x":160931.4,"y":590794.3},{"c":17,"x":160930.4,"y":590779.5},{"c":17,"x":160926.1,"y":590766.9},{"c":17,"x":160917.7,"y":590735.2},{"c":17,"x":160900.8,"y":590728.5},{"c":17,"x":160884,"y":590736.3},{"c":17,"x":160871.3,"y":590749},{"c":17,"x":160863.3,"y":590753.8},{"c":17,"x":160874.5,"y":590762.7},{"c":17,"x":160869.2,"y":590764.1},{"c":17,"x":160858.7,"y":590771.1},{"c":17,"x":160853.4,"y":590782.7},{"c":17,"x":160858.7,"y":590788},{"c":17,"x":160885,"y":590829.1},{"c":17,"x":160888.2,"y":590833.3},
{"c":18,"x":161020,"y":590902.8},{"c":18,"x":160990.4,"y":590891.2},{"c":18,"x":160971.5,"y":590886},{"c":18,"x":160964.1,"y":590876.5},{"c":18,"x":160960.3,"y":590866},{"c":18,"x":160964.1,"y":590831.2},{"c":18,"x":160964.1,"y":590815.3},{"c":18,"x":160971.5,"y":590800.6},{"c":18,"x":160975.7,"y":590762.7},{"c":18,"x":160976.1,"y":590746.8},{"c":18,"x":160974.6,"y":590738.4},
{"c":19,"x":161030.5,"y":590876.5},{"c":19,"x":161001,"y":590870.2},{"c":19,"x":160988.3,"y":590863.8},{"c":19,"x":160987.9,"y":590857.9},{"c":19,"x":160983,"y":590855.4},{"c":19,"x":160983,"y":590848},{"c":19,"x":160976.1,"y":590839.6},{"c":19,"x":160980.9,"y":590817.5},{"c":19,"x":160980.9,"y":590809},{"c":19,"x":160986.2,"y":590800.6},{"c":19,"x":160993.6,"y":590766.9},{"c":19,"x":160993.6,"y":590747.9},{"c":19,"x":160995.1,"y":590738.4},
{"c":20,"x":161050.1,"y":590846.3},{"c":20,"x":161031.5,"y":590842.8},{"c":20,"x":161017.8,"y":590839.6},{"c":20,"x":161001.4,"y":590832.2},{"c":20,"x":161001.4,"y":590817.5},{"c":20,"x":161004.1,"y":590790},{"c":20,"x":161009.4,"y":590771.1},{"c":20,"x":161013.6,"y":590760.5},{"c":20,"x":161013.2,"y":590724.7},{"c":20,"x":161008.4,"y":590721.1},
{"c":21,"x":161076.8,"y":590831.3},{"c":21,"x":161069.4,"y":590815.8},{"c":21,"x":161036,"y":590808.5},{"c":21,"x":161028,"y":590796.4},{"c":21,"x":161029.4,"y":590791.1},{"c":21,"x":161021.9,"y":590784.8},{"c":21,"x":161027.2,"y":590767.3},{"c":21,"x":161033.3,"y":590757.6},{"c":21,"x":161033.3,"y":590750.3},{"c":21,"x":161040.5,"y":590719.3},{"c":21,"x":161034.2,"y":590694.6},{"c":21,"x":161031.6,"y":590688.5},{"c":21,"x":161028.4,"y":590685.6},
{"c":22,"x":161099.7,"y":590812.6},{"c":22,"x":161094.1,"y":590800},{"c":22,"x":161077.3,"y":590786.7},{"c":22,"x":161073,"y":590776.3},
{"c":23,"x":161057.1,"y":590752},{"c":23,"x":161059.7,"y":590752},{"c":23,"x":161058.5,"y":590738.2},{"c":23,"x":161062.9,"y":590729.3},{"c":23,"x":161065,"y":590709.1},{"c":23,"x":161067.3,"y":590702.8},{"c":23,"x":161064.5,"y":590704.8},{"c":23,"x":161065.5,"y":590684.9},{"c":23,"x":161040,"y":590666.7},
{"c":24,"x":161086.1,"y":590700.6},{"c":24,"x":161084.6,"y":590697},{"c":24,"x":161087.9,"y":590678.8},{"c":24,"x":161081.7,"y":590672.8},{"c":24,"x":161080.5,"y":590665.5},{"c":24,"x":161064.5,"y":590657},{"c":24,"x":161051.8,"y":590646.1},
{"c":25,"x":161104.3,"y":590665.5},{"c":25,"x":161103.4,"y":590658.2},{"c":25,"x":161095.5,"y":590648.5},{"c":25,"x":161092.7,"y":590651.9},{"c":25,"x":161091.1,"y":590643},{"c":25,"x":161073,"y":590632.8},{"c":25,"x":161064.5,"y":590624.3},
{"c":26,"x":161114.5,"y":590645.4},{"c":26,"x":161113.4,"y":590640},{"c":26,"x":161106.4,"y":590630.8},{"c":26,"x":161102.9,"y":590631.6},{"c":26,"x":161102.5,"y":590620.2},{"c":26,"x":161085.6,"y":590611},{"c":26,"x":161079.5,"y":590605.4},
{"c":27,"x":161125.4,"y":590627.9},{"c":27,"x":161124.9,"y":590625},{"c":27,"x":161116.1,"y":590621.4},{"c":27,"x":161112,"y":590602.5},{"c":27,"x":161107.6,"y":590596.4},{"c":27,"x":161092.7,"y":590589.9},
{"c":28,"x":161133.2,"y":590609.7},{"c":28,"x":161128.4,"y":590598.8},{"c":28,"x":161126.1,"y":590589.9},{"c":28,"x":161124,"y":590589.1},{"c":28,"x":161122.8,"y":590580.7},{"c":28,"x":161119.1,"y":590583.1},{"c":28,"x":161105,"y":590573.4},{"c":28,"x":161101.6,"y":590572.7},
{"c":29,"x":161147.3,"y":590582.4},{"c":29,"x":161144.3,"y":590579.9},{"c":29,"x":161142.9,"y":590587.2},{"c":29,"x":161141.6,"y":590583.1},{"c":29,"x":161143.4,"y":590577},{"c":29,"x":161137.2,"y":590568.5},{"c":29,"x":161134.6,"y":590559.6},{"c":29,"x":161113.4,"y":590552.8},
{"c":30,"x":161160.1,"y":590557.2},{"c":30,"x":161157.1,"y":590557.6},{"c":30,"x":161150.4,"y":590550.4},{"c":30,"x":161147.3,"y":590535.1},{"c":30,"x":161143.4,"y":590533.9},{"c":30,"x":161125.4,"y":590531.9},
{"c":31,"x":161170.1,"y":590537},{"c":31,"x":161167.7,"y":590534.6},{"c":31,"x":161170.7,"y":590527.8},{"c":31,"x":161165.4,"y":590521.8},{"c":31,"x":161159.8,"y":590510.4},{"c":31,"x":161138.5,"y":590501.9},
{"c":32,"x":161194.7,"y":590488.5},{"c":32,"x":161185.9,"y":590488},{"c":32,"x":161180.7,"y":590492.6},{"c":32,"x":161179.6,"y":590488},{"c":32,"x":161176.3,"y":590486.9},{"c":32,"x":161175.4,"y":590467},{"c":32,"x":161158.3,"y":590462.9},{"c":32,"x":161150.9,"y":590460.1},
{"c":33,"x":161198.5,"y":590459.9},{"c":33,"x":161200,"y":590461.8},{"c":33,"x":161200.5,"y":590458.8},{"c":33,"x":161198.5,"y":590459.9},
{"c":34,"x":161219.2,"y":590455.2},{"c":34,"x":161234.3,"y":590445},{"c":34,"x":161232.1,"y":590438.4},{"c":34,"x":161225.5,"y":590438.7},{"c":34,"x":161218.4,"y":590440.6},{"c":34,"x":161213.7,"y":590448.9},{"c":34,"x":161219.2,"y":590455.2},
{"c":35,"x":161196,"y":590445.3},{"c":35,"x":161201,"y":590447.2},{"c":35,"x":161203.5,"y":590440.4},{"c":35,"x":161196,"y":590445.3},
{"c":36,"x":161163.8,"y":590403.6},{"c":36,"x":161166,"y":590403.6},{"c":36,"x":161177,"y":590408.6},{"c":36,"x":161182,"y":590417.5},{"c":36,"x":161189.2,"y":590433.4},{"c":36,"x":161197.4,"y":590436.7},{"c":36,"x":161203.8,"y":590437.3},{"c":36,"x":161205.5,"y":590429},{"c":36,"x":161215.1,"y":590424.1},{"c":36,"x":161215.1,"y":590430.1},{"c":36,"x":161221.1,"y":590426},{"c":36,"x":161223.9,"y":590427.4},{"c":36,"x":161227.7,"y":590425.7},{"c":36,"x":161225,"y":590408.6},{"c":36,"x":161227.7,"y":590385},
{"c":37,"x":161182.8,"y":590371.5},{"c":37,"x":161184.8,"y":590373.7},{"c":37,"x":161189.2,"y":590374.8},{"c":37,"x":161196.1,"y":590378.3},{"c":37,"x":161191.4,"y":590392.1},{"c":37,"x":161196.3,"y":590405.3},{"c":37,"x":161200.2,"y":590406.4},{"c":37,"x":161213.4,"y":590401.5},{"c":37,"x":161217.3,"y":590393.2},{"c":37,"x":161221.1,"y":590397},{"c":37,"x":161224.4,"y":590403.1},{"c":37,"x":161226.1,"y":590394.3},{"c":37,"x":161227.7,"y":590385},
{"c":38,"x":161234.9,"y":590424.6},{"c":38,"x":161239.3,"y":590419.9},{"c":38,"x":161242.6,"y":590427.4},{"c":38,"x":161245.9,"y":590435.6},{"c":38,"x":161255.8,"y":590448.3},{"c":38,"x":161271.8,"y":590468.7},
{"c":39,"x":161238.2,"y":590418.6},{"c":39,"x":161234,"y":590413.6},{"c":39,"x":161233.2,"y":590406.4},{"c":39,"x":161231,"y":590397.6},{"c":39,"x":161229.4,"y":590391.6},{"c":39,"x":161227.2,"y":590405.3},{"c":39,"x":161227.2,"y":590425.2},
{"c":40,"x":161271.3,"y":590464.3},{"c":40,"x":161254.7,"y":590446.1},{"c":40,"x":161247,"y":590434},{"c":40,"x":161243.2,"y":590421.9},{"c":40,"x":161242.6,"y":590407.5},{"c":40,"x":161243.2,"y":590395.4},
{"c":41,"x":161271.3,"y":590462.6},{"c":41,"x":161254.2,"y":590436.7},{"c":41,"x":161255.3,"y":590421.9},{"c":41,"x":161248.1,"y":590409.7},{"c":41,"x":161260.8,"y":590415.8},{"c":41,"x":161271.3,"y":590436.2},
{"c":42,"x":161243.2,"y":590392.1},{"c":42,"x":161244.8,"y":590387.7},{"c":42,"x":161248.1,"y":590378.9},{"c":42,"x":161252,"y":590370.3},
{"c":43,"x":161248.7,"y":590384.4},{"c":43,"x":161253.1,"y":590375.6},{"c":43,"x":161256.9,"y":590367.9},
{"c":44,"x":161231.6,"y":590376.7},{"c":44,"x":161234.3,"y":590369},{"c":44,"x":161240.4,"y":590361.3},
{"c":45,"x":160517.3,"y":590835.8},{"c":45,"x":160534.6,"y":590826.3},
{"c":46,"x":160542,"y":590827.3},{"c":46,"x":160577.8,"y":590834.1},{"c":46,"x":160571.5,"y":590828},{"c":46,"x":160584.1,"y":590829.5},{"c":46,"x":160617.9,"y":590839.4},{"c":46,"x":160612.6,"y":590834.3},{"c":46,"x":160626.3,"y":590835.8},{"c":46,"x":160638.9,"y":590841.7},{"c":46,"x":160660,"y":590837.9},{"c":46,"x":160685.3,"y":590830.9},{"c":46,"x":160724.9,"y":590787.3},{"c":46,"x":160732.5,"y":590776.4},{"c":46,"x":160724.9,"y":590742},{"c":46,"x":160701.1,"y":590691.4},{"c":46,"x":160692.7,"y":590674.5},{"c":46,"x":160692.7,"y":590664},{"c":46,"x":160686.4,"y":590657.7},{"c":46,"x":160688.5,"y":590638.7},{"c":46,"x":160693.7,"y":590594.4},{"c":46,"x":160701.8,"y":590551.5},
{"c":47,"x":160474.5,"y":590824.2},{"c":47,"x":160490.3,"y":590820},{"c":47,"x":160492.4,"y":590810.5},{"c":47,"x":160506.1,"y":590813.2},{"c":47,"x":160514.6,"y":590810.5},{"c":47,"x":160530.4,"y":590800.6},{"c":47,"x":160527.2,"y":590806.9},{"c":47,"x":160536.7,"y":590805.2},{"c":47,"x":160533.5,"y":590798.9},{"c":47,"x":160543,"y":590797.8},{"c":47,"x":160573.6,"y":590802},{"c":47,"x":160605.2,"y":590806.9},{"c":47,"x":160646.3,"y":590808.4},{"c":47,"x":160650.5,"y":590809.9},{"c":47,"x":160664.2,"y":590806.3},{"c":47,"x":160701.7,"y":590753.6},{"c":47,"x":160676.9,"y":590701.9},{"c":47,"x":160666.3,"y":590666.1},{"c":47,"x":160664.2,"y":590651.3},{"c":47,"x":160666.3,"y":590647.1},{"c":47,"x":160665.3,"y":590630.2},{"c":47,"x":160670.1,"y":590581.8},{"c":47,"x":160661.7,"y":590539.5},{"c":47,"x":160664.9,"y":590533.5},{"c":47,"x":160700.7,"y":590505.5},{"c":47,"x":160740.8,"y":590488},
{"c":48,"x":160434,"y":590809.9},{"c":48,"x":160466.1,"y":590801},{"c":48,"x":160485,"y":590792.1},{"c":48,"x":160520.9,"y":590777.4},{"c":48,"x":160537.7,"y":590779.9},{"c":48,"x":160545.1,"y":590772.5},{"c":48,"x":160563,"y":590776.8},{"c":48,"x":160605.2,"y":590781.6},{"c":48,"x":160627.3,"y":590782},{"c":48,"x":160657.9,"y":590754.6},{"c":48,"x":160665.9,"y":590739.9},{"c":48,"x":160659,"y":590723},{"c":48,"x":160647.4,"y":590678.7},{"c":48,"x":160643.8,"y":590664},{"c":48,"x":160642.1,"y":590642.9},{"c":48,"x":160643.8,"y":590598.6},{"c":48,"x":160635.4,"y":590574.6},{"c":48,"x":160631.2,"y":590560.6},{"c":48,"x":160613.3,"y":590536.5},{"c":48,"x":160601.7,"y":590520.5},{"c":48,"x":160601.7,"y":590515.5},{"c":48,"x":160637.5,"y":590498.5},{"c":48,"x":160663.8,"y":590488.4},{"c":48,"x":160690.2,"y":590475.4},{"c":48,"x":160717.6,"y":590464.4},{"c":48,"x":160723.9,"y":590460.4},{"c":48,"x":160743.9,"y":590456.8},
{"c":49,"x":160409.6,"y":590800.6},{"c":49,"x":160416.5,"y":590791.5},{"c":49,"x":160434.5,"y":590786.2},{"c":49,"x":160441.2,"y":590786.2},{"c":49,"x":160436.6,"y":590781.6},{"c":49,"x":160445,"y":590782.4},{"c":49,"x":160474.5,"y":590762},{"c":49,"x":160510.3,"y":590753.4},{"c":49,"x":160550.4,"y":590753.1},{"c":49,"x":160567.3,"y":590755.3},{"c":49,"x":160584.1,"y":590748.9},{"c":49,"x":160607.3,"y":590744.5},{"c":49,"x":160622,"y":590732.5},{"c":49,"x":160624.2,"y":590723},{"c":49,"x":160627.3,"y":590688.2},{"c":49,"x":160619.5,"y":590653.4},{"c":49,"x":160621,"y":590638.7},{"c":49,"x":160625.2,"y":590631.3},{"c":49,"x":160615.7,"y":590628.1},{"c":49,"x":160618.9,"y":590615.5},{"c":49,"x":160601.7,"y":590578.6},{"c":49,"x":160586.9,"y":590556.6},{"c":49,"x":160577.4,"y":590532.5},{"c":49,"x":160570,"y":590504.5},{"c":49,"x":160575.3,"y":590500.5},{"c":49,"x":160626.9,"y":590475.4},{"c":49,"x":160643.8,"y":590468.4},{"c":49,"x":160671.2,"y":590450.4},{"c":49,"x":160688.1,"y":590442.8},{"c":49,"x":160697.6,"y":590443.4},{"c":49,"x":160710.2,"y":590436.8},{"c":49,"x":160743.9,"y":590427.7},
{"c":50,"x":160465.4,"y":590617.6},{"c":50,"x":160488.2,"y":590573.3},{"c":50,"x":160494.5,"y":590567.4},{"c":50,"x":160510.3,"y":590574.4},{"c":50,"x":160515.6,"y":590583.9},{"c":50,"x":160523,"y":590617.6},{"c":50,"x":160532.5,"y":590646},{"c":50,"x":160539.9,"y":590688.2},{"c":50,"x":160537.7,"y":590689.3},{"c":50,"x":160535.6,"y":590699.8},{"c":50,"x":160521.9,"y":590704},{"c":50,"x":160515.6,"y":590698.8},{"c":50,"x":160526.2,"y":590693.1},{"c":50,"x":160511.4,"y":590691.8},{"c":50,"x":160507.6,"y":590696.7},{"c":50,"x":160487.2,"y":590695.6},{"c":50,"x":160457.6,"y":590687.2},{"c":50,"x":160452.4,"y":590693.5},{"c":50,"x":160440.8,"y":590723},{"c":50,"x":160436.6,"y":590742},{"c":50,"x":160436.6,"y":590744.7},{"c":50,"x":160440.8,"y":590745.1},{"c":50,"x":160447.1,"y":590738.8},{"c":50,"x":160461.9,"y":590731.9},{"c":50,"x":160497.7,"y":590726},{"c":50,"x":160537.7,"y":590726},{"c":50,"x":160558.8,"y":590719.4},{"c":50,"x":160574.6,"y":590707.2},{"c":50,"x":160575.3,"y":590711.4},{"c":50,"x":160597.8,"y":590690.3},{"c":50,"x":160597.8,"y":590674.5},{"c":50,"x":160593.6,"y":590674.5},{"c":50,"x":160602,"y":590651.8},{"c":50,"x":160591.1,"y":590628.7},{"c":50,"x":160582.7,"y":590612.6},{"c":50,"x":160563.7,"y":590566.6},{"c":50,"x":160555.3,"y":590552.5},{"c":50,"x":160546.9,"y":590534.5},{"c":50,"x":160542.6,"y":590515.5},{"c":50,"x":160574.3,"y":590461.4},{"c":50,"x":160611.1,"y":590450.4},{"c":50,"x":160633.3,"y":590438.4},{"c":50,"x":160659.6,"y":590428.4},{"c":50,"x":160670.2,"y":590424.8},{"c":50,"x":160681.8,"y":590430.4},{"c":50,"x":160711.3,"y":590405.3},
{"c":51,"x":160528.7,"y":590560},{"c":51,"x":160501.3,"y":590557.5},{"c":51,"x":160510.3,"y":590548.7},{"c":51,"x":160536.7,"y":590559.6},{"c":51,"x":160547.2,"y":590569},{"c":51,"x":160550.4,"y":590581.8},{"c":51,"x":160552.5,"y":590601.8},{"c":51,"x":160563,"y":590619.7},{"c":51,"x":160572.1,"y":590651.7},{"c":51,"x":160569.4,"y":590661.9},{"c":51,"x":160549.8,"y":590687.6},{"c":51,"x":160543.6,"y":590668.2},{"c":51,"x":160542,"y":590653.4},{"c":51,"x":160539.4,"y":590570.2},{"c":51,"x":160536.7,"y":590559.6},
{"c":52,"x":160460.2,"y":590681.9},{"c":52,"x":160468.2,"y":590686.1},{"c":52,"x":160484,"y":590688.6},{"c":52,"x":160505.1,"y":590662.9},{"c":52,"x":160512,"y":590661.9},{"c":52,"x":160508.2,"y":590640.8},{"c":52,"x":160502.3,"y":590628.6},{"c":52,"x":160468.6,"y":590648.8},{"c":52,"x":160460.2,"y":590681.9},
{"c":53,"x":160546.4,"y":590480.4},{"c":53,"x":160556.3,"y":590473.4},{"c":53,"x":160585.9,"y":590425.7},{"c":53,"x":160602.7,"y":590422.3},{"c":53,"x":160620.6,"y":590415.3},{"c":53,"x":160637.5,"y":590410.3},{"c":53,"x":160644.9,"y":590405.9},{"c":53,"x":160658.6,"y":590411.3},{"c":53,"x":160663.8,"y":590400.3},{"c":53,"x":160667,"y":590389.3},{"c":53,"x":160675.9,"y":590381.7},
{"c":54,"x":160581.6,"y":590411.7},{"c":54,"x":160598.5,"y":590391.3},{"c":54,"x":160616.8,"y":590385.3},{"c":54,"x":160625.9,"y":590389.3},{"c":54,"x":160631.2,"y":590383.3},{"c":54,"x":160642.8,"y":590360.6},
{"c":55,"x":160720.2,"y":590887.5},{"c":55,"x":160738.1,"y":590884},{"c":55,"x":160754.6,"y":590882.9},{"c":55,"x":160760.7,"y":590880.2},{"c":55,"x":160759.6,"y":590876.9},{"c":55,"x":160776.7,"y":590864.8},{"c":55,"x":160785.5,"y":590858.7},{"c":55,"x":160789.9,"y":590853.7},{"c":55,"x":160790.2,"y":590852.2},{"c":55,"x":160789.1,"y":590823.8},{"c":55,"x":160787,"y":590785.8},{"c":55,"x":160783.8,"y":590768.9},{"c":55,"x":160777.5,"y":590752.1},{"c":55,"x":160771.2,"y":590737.3},{"c":55,"x":160764.5,"y":590715},{"c":55,"x":160739.3,"y":590660.5},{"c":55,"x":160735.5,"y":590658.7},{"c":55,"x":160738.7,"y":590621.2},
{"c":56,"x":160731.5,"y":590907.2},{"c":56,"x":160738.1,"y":590906.6},{"c":56,"x":160749.1,"y":590906},{"c":56,"x":160763.4,"y":590904.7},{"c":56,"x":160775.6,"y":590903.9},{"c":56,"x":160787.1,"y":590897.3},{"c":56,"x":160795.4,"y":590898.4},{"c":56,"x":160799.3,"y":590901.3},{"c":56,"x":160803.1,"y":590902},{"c":56,"x":160805.5,"y":590899.8},{"c":56,"x":160801.5,"y":590894.5},{"c":56,"x":160801.5,"y":590890.7},{"c":56,"x":160811.4,"y":590883.5},{"c":56,"x":160813,"y":590884},{"c":56,"x":160814.1,"y":590881.3},{"c":56,"x":160814.1,"y":590868.6},{"c":56,"x":160818,"y":590857},{"c":56,"x":160818.5,"y":590840.5},{"c":56,"x":160816.5,"y":590819.6},{"c":56,"x":160816.5,"y":590771.1},{"c":56,"x":160809.1,"y":590735.2},{"c":56,"x":160803.9,"y":590723.7},{"c":56,"x":160808.1,"y":590716.3},{"c":56,"x":160795.2,"y":590711.6},{"c":56,"x":160781.6,"y":590687.8},{"c":56,"x":160765.2,"y":590657.1},
{"c":57,"x":160626.2,"y":590852.7},{"c":57,"x":160662.3,"y":590866.3},{"c":57,"x":160699.8,"y":590868.4},{"c":57,"x":160720.2,"y":590851.3},{"c":57,"x":160738.1,"y":590833.9},{"c":57,"x":160759.6,"y":590812.4},{"c":57,"x":160759.6,"y":590807.5},{"c":57,"x":160754.3,"y":590776.4},{"c":57,"x":160737.3,"y":590739},{"c":57,"x":160725,"y":590679.6},{"c":57,"x":160711.6,"y":590670.3},{"c":57,"x":160712.7,"y":590653.4},{"c":57,"x":160718,"y":590597.6},
{"c":58,"x":160623.6,"y":591244},{"c":58,"x":160630,"y":591252},{"c":58,"x":160636,"y":591257},{"c":58,"x":160658,"y":591273.5},
{"c":59,"x":160600.4,"y":591233},{"c":59,"x":160616.2,"y":591235}
],
"green":[{"x":160922,"y":591006},
{"x":160892,"y":590991},{"x":160913,"y":590991},{"x":160934,"y":590991},
{"x":160880,"y":590976},{"x":160901,"y":590976},{"x":160922,"y":590976},{"x":160943,"y":590976},
{"x":160850,"y":590961},{"x":160871,"y":590961},{"x":160892,"y":590961},{"x":160913,"y":590961},{"x":160934,"y":590961},
{"x":160817,"y":590946},{"x":160838,"y":590946},{"x":160859,"y":590946},{"x":160880,"y":590946},{"x":160901,"y":590946},{"x":160922,"y":590946},{"x":160943,"y":590946},
{"x":160808,"y":590930},{"x":160829,"y":590930},{"x":160850,"y":590930},{"x":160871,"y":590930},{"x":160892,"y":590930},{"x":160913,"y":590930},{"x":160934,"y":590930},{"x":160955,"y":590930},
{"x":160775,"y":590915},{"x":160796,"y":590915},{"x":160817,"y":590915},{"x":160838,"y":590915},{"x":160859,"y":590915},{"x":160880,"y":590915},{"x":160901,"y":590915},{"x":160922,"y":590915},{"x":160943,"y":590915},{"x":160964,"y":590915},
{"x":160745,"y":590900},{"x":160766,"y":590900},{"x":160787,"y":590900},{"x":160808,"y":590900},{"x":160829,"y":590900},{"x":160850,"y":590900},{"x":160871,"y":590900},{"x":160892,"y":590900},{"x":160913,"y":590900},{"x":160934,"y":590900},{"x":160955,"y":590900},{"x":160976,"y":590900},
{"x":160733,"y":590885},{"x":160754,"y":590885},{"x":160775,"y":590885},{"x":160796,"y":590885},{"x":160817,"y":590885},{"x":160838,"y":590885},{"x":160859,"y":590885},{"x":160880,"y":590885},{"x":160901,"y":590885},{"x":160922,"y":590885},{"x":160943,"y":590885},{"x":160964,"y":590885},{"x":160985,"y":590885},
{"x":160682,"y":590870},{"x":160703,"y":590870},{"x":160724,"y":590870},{"x":160745,"y":590870},{"x":160766,"y":590870},{"x":160787,"y":590870},{"x":160808,"y":590870},{"x":160829,"y":590870},{"x":160850,"y":590870},{"x":160871,"y":590870},{"x":160892,"y":590870},{"x":160913,"y":590870},{"x":160934,"y":590870},{"x":160955,"y":590870},{"x":160976,"y":590870},{"x":160997,"y":590870},
{"x":160649,"y":590854},{"x":160670,"y":590854},{"x":160691,"y":590854},{"x":160712,"y":590854},{"x":160733,"y":590854},{"x":160754,"y":590854},{"x":160775,"y":590854},{"x":160796,"y":590854},{"x":160817,"y":590854},{"x":160838,"y":590854},{"x":160859,"y":590854},{"x":160880,"y":590854},{"x":160901,"y":590854},{"x":160922,"y":590854},{"x":160943,"y":590854},{"x":160964,"y":590854},{"x":160985,"y":590854},
{"x":160619,"y":590839},{"x":160640,"y":590839},{"x":160661,"y":590839},{"x":160682,"y":590839},{"x":160703,"y":590839},{"x":160724,"y":590839},{"x":160745,"y":590839},{"x":160766,"y":590839},{"x":160787,"y":590839},{"x":160808,"y":590839},{"x":160829,"y":590839},{"x":160850,"y":590839},{"x":160871,"y":590839},{"x":160892,"y":590839},{"x":160913,"y":590839},{"x":160934,"y":590839},{"x":160955,"y":590839},{"x":160976,"y":590839},{"x":160997,"y":590839},
{"x":160586,"y":590824},{"x":160607,"y":590824},{"x":160628,"y":590824},{"x":160649,"y":590824},{"x":160670,"y":590824},{"x":160691,"y":590824},{"x":160712,"y":590824},{"x":160733,"y":590824},{"x":160754,"y":590824},{"x":160775,"y":590824},{"x":160796,"y":590824},{"x":160817,"y":590824},{"x":160838,"y":590824},{"x":160859,"y":590824},{"x":160880,"y":590824},{"x":160901,"y":590824},{"x":160922,"y":590824},{"x":160943,"y":590824},{"x":160964,"y":590824},{"x":160985,"y":590824},
{"x":160535,"y":590809},{"x":160556,"y":590809},{"x":160577,"y":590809},{"x":160598,"y":590809},{"x":160619,"y":590809},{"x":160640,"y":590809},{"x":160661,"y":590809},{"x":160682,"y":590809},{"x":160703,"y":590809},{"x":160724,"y":590809},{"x":160745,"y":590809},{"x":160766,"y":590809},{"x":160787,"y":590809},{"x":160808,"y":590809},{"x":160829,"y":590809},{"x":160850,"y":590809},{"x":160871,"y":590809},{"x":160892,"y":590809},{"x":160913,"y":590809},{"x":160934,"y":590809},{"x":160955,"y":590809},{"x":160976,"y":590809},
{"x":160502,"y":590794},{"x":160523,"y":590794},{"x":160544,"y":590794},{"x":160565,"y":590794},{"x":160586,"y":590794},{"x":160607,"y":590794},{"x":160628,"y":590794},{"x":160649,"y":590794},{"x":160670,"y":590794},{"x":160691,"y":590794},{"x":160712,"y":590794},{"x":160733,"y":590794},{"x":160754,"y":590794},{"x":160775,"y":590794},{"x":160796,"y":590794},{"x":160817,"y":590794},{"x":160838,"y":590794},{"x":160859,"y":590794},{"x":160880,"y":590794},{"x":160901,"y":590794},{"x":160922,"y":590794},{"x":160943,"y":590794},
{"x":160472,"y":590778},{"x":160493,"y":590778},{"x":160514,"y":590778},{"x":160535,"y":590778},{"x":160556,"y":590778},{"x":160577,"y":590778},{"x":160598,"y":590778},{"x":160619,"y":590778},{"x":160640,"y":590778},{"x":160661,"y":590778},{"x":160682,"y":590778},{"x":160703,"y":590778},{"x":160724,"y":590778},{"x":160745,"y":590778},{"x":160766,"y":590778},{"x":160787,"y":590778},{"x":160808,"y":590778},{"x":160829,"y":590778},{"x":160850,"y":590778},{"x":160871,"y":590778},{"x":160892,"y":590778},{"x":160913,"y":590778},
{"x":160460,"y":590763},{"x":160481,"y":590763},{"x":160502,"y":590763},{"x":160523,"y":590763},{"x":160544,"y":590763},{"x":160565,"y":590763},{"x":160586,"y":590763},{"x":160607,"y":590763},{"x":160628,"y":590763},{"x":160649,"y":590763},{"x":160670,"y":590763},{"x":160691,"y":590763},{"x":160712,"y":590763},{"x":160733,"y":590763},{"x":160754,"y":590763},{"x":160775,"y":590763},{"x":160796,"y":590763},{"x":160817,"y":590763},{"x":160838,"y":590763},{"x":160859,"y":590763},{"x":160880,"y":590763},
{"x":160472,"y":590748},{"x":160493,"y":590748},{"x":160514,"y":590748},{"x":160535,"y":590748},{"x":160556,"y":590748},{"x":160577,"y":590748},{"x":160598,"y":590748},{"x":160619,"y":590748},{"x":160640,"y":590748},{"x":160661,"y":590748},{"x":160682,"y":590748},{"x":160703,"y":590748},{"x":160724,"y":590748},{"x":160745,"y":590748},{"x":160766,"y":590748},{"x":160787,"y":590748},{"x":160808,"y":590748},{"x":160829,"y":590748},{"x":160850,"y":590748},
{"x":160481,"y":590733},{"x":160502,"y":590733},{"x":160523,"y":590733},{"x":160544,"y":590733},{"x":160565,"y":590733},{"x":160586,"y":590733},{"x":160607,"y":590733},{"x":160628,"y":590733},{"x":160649,"y":590733},{"x":160670,"y":590733},{"x":160691,"y":590733},{"x":160712,"y":590733},{"x":160733,"y":590733},{"x":160754,"y":590733},{"x":160775,"y":590733},{"x":160796,"y":590733},{"x":160817,"y":590733},
{"x":160493,"y":590718},{"x":160514,"y":590718},{"x":160535,"y":590718},{"x":160556,"y":590718},{"x":160577,"y":590718},{"x":160598,"y":590718},{"x":160619,"y":590718},{"x":160640,"y":590718},{"x":160661,"y":590718},{"x":160682,"y":590718},{"x":160703,"y":590718},{"x":160724,"y":590718},{"x":160745,"y":590718},{"x":160766,"y":590718},{"x":160787,"y":590718},
{"x":160502,"y":590702},{"x":160523,"y":590702},{"x":160544,"y":590702},{"x":160565,"y":590702},{"x":160586,"y":590702},{"x":160607,"y":590702},{"x":160628,"y":590702},{"x":160649,"y":590702},{"x":160670,"y":590702},{"x":160691,"y":590702},{"x":160712,"y":590702},{"x":160733,"y":590702},{"x":160754,"y":590702},{"x":160775,"y":590702},
{"x":160514,"y":590687},{"x":160535,"y":590687},{"x":160556,"y":590687},{"x":160577,"y":590687},{"x":160598,"y":590687},{"x":160619,"y":590687},{"x":160640,"y":590687},{"x":160661,"y":590687},{"x":160682,"y":590687},{"x":160703,"y":590687},{"x":160724,"y":590687},{"x":160745,"y":590687},
{"x":160523,"y":590672},{"x":160544,"y":590672},{"x":160565,"y":590672},{"x":160586,"y":590672},{"x":160607,"y":590672},{"x":160628,"y":590672},{"x":160649,"y":590672},{"x":160670,"y":590672},{"x":160691,"y":590672},{"x":160712,"y":590672},
{"x":160514,"y":590657},{"x":160535,"y":590657},{"x":160556,"y":590657},{"x":160577,"y":590657},{"x":160598,"y":590657},{"x":160619,"y":590657},{"x":160640,"y":590657},{"x":160661,"y":590657},{"x":160682,"y":590657},
{"x":160523,"y":590642},{"x":160544,"y":590642},{"x":160565,"y":590642},{"x":160586,"y":590642},{"x":160607,"y":590642},{"x":160628,"y":590642},{"x":160649,"y":590642},
{"x":160535,"y":590626},{"x":160556,"y":590626},{"x":160577,"y":590626},{"x":160598,"y":590626},{"x":160619,"y":590626},
{"x":160544,"y":590611},{"x":160565,"y":590611},{"x":160586,"y":590611},{"x":160607,"y":590611},
{"x":160556,"y":590596},{"x":160577,"y":590596},{"x":160598,"y":590596},{"x":160619,"y":590596},
{"x":160565,"y":590581},{"x":160586,"y":590581},{"x":160607,"y":590581},{"x":160628,"y":590581},
{"x":160577,"y":590566},{"x":160598,"y":590566},{"x":160619,"y":590566},{"x":160640,"y":590566},
{"x":160586,"y":590550},{"x":160607,"y":590550},{"x":160628,"y":590550},{"x":160649,"y":590550},
{"x":160577,"y":590535},{"x":160598,"y":590535},{"x":160619,"y":590535},{"x":160640,"y":590535},{"x":160661,"y":590535},
{"x":160586,"y":590520},{"x":160607,"y":590520},{"x":160628,"y":590520},{"x":160649,"y":590520},{"x":160670,"y":590520},
{"x":160598,"y":590505},{"x":160619,"y":590505},{"x":160640,"y":590505},{"x":160661,"y":590505},
{"x":160607,"y":590490},{"x":160628,"y":590490},{"x":160649,"y":590490},{"x":160670,"y":590490},
{"x":160619,"y":590474},{"x":160640,"y":590474},{"x":160661,"y":590474},{"x":160682,"y":590474},
{"x":160628,"y":590459},{"x":160649,"y":590459},{"x":160670,"y":590459},{"x":160691,"y":590459},
{"x":160640,"y":590444},{"x":160661,"y":590444},{"x":160682,"y":590444},
{"x":160649,"y":590429},{"x":160670,"y":590429},
{"x":160640,"y":590414}]
}}
